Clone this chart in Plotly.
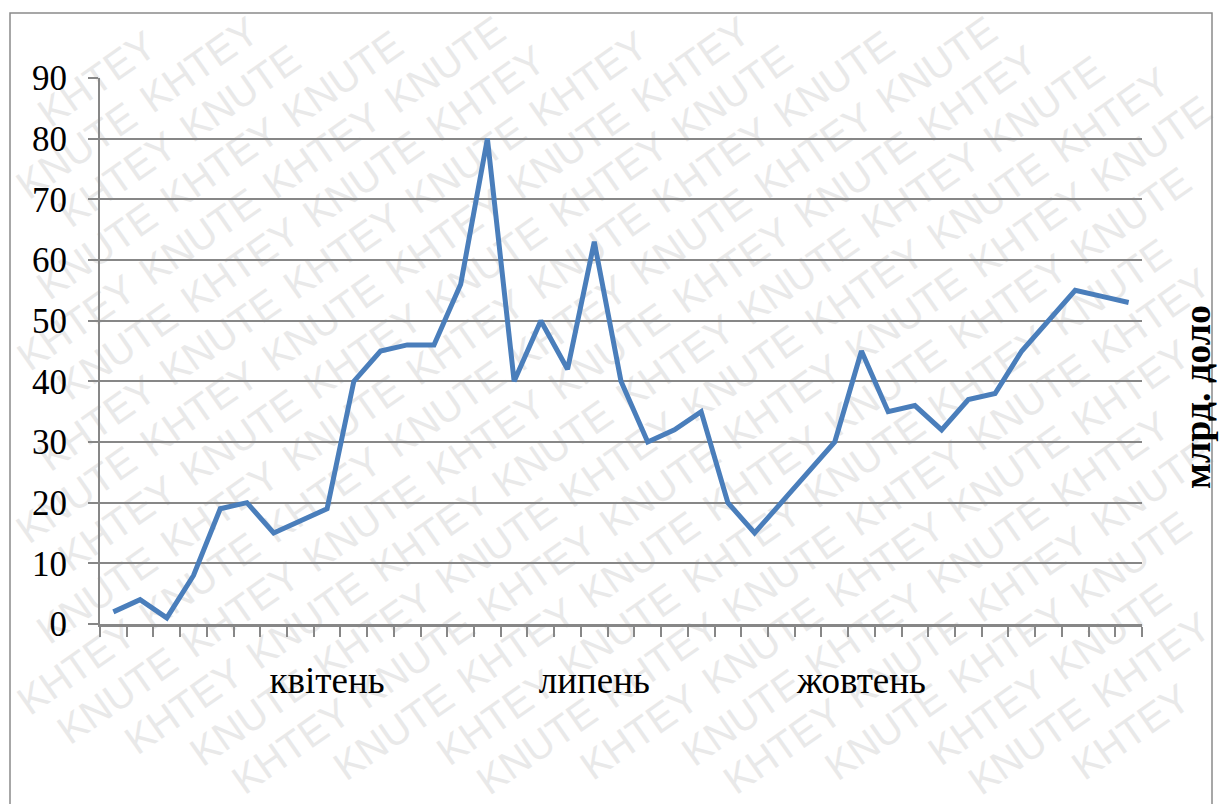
import math
import plotly.graph_objects as go

# ---- data ----
periods = list(range(39))
values = [2, 4, 1, 8, 19, 20, 15, 17, 19, 40, 45, 46, 46, 56, 80, 40, 50, 42, 63, 40,
          30, 32, 35, 20, 15, 20, 25, 30, 45, 35, 36, 32, 37, 38, 45, 50, 55, 54, 53]
month_positions = [8, 18, 28]
month_labels = ["квітень", "липень", "жовтень"]
y_ticks = [0, 10, 20, 30, 40, 50, 60, 70, 80, 90]
unit_label = "млрд. доло"
watermark_words = ["KHTEY", "KNUTE"]

W, H = 1223, 804
L, R, T, B = 100, 1142, 78, 624


def px_x(px):
    return (px - L) / (R - L)


def px_y(py):
    return (B - py) / (B - T)


fig = go.Figure()
fig.add_trace(go.Scatter(
    x=periods, y=values, mode="lines",
    line=dict(color="#4A7EBB", width=5),
    hoverinfo="skip", showlegend=False,
))

serif = "Liberation Serif, Times New Roman, serif"
grey = "#878787"

shapes = []
# faint diagonal watermark, word by word, only words that fit inside the page
ang = math.radians(35)
ux, uy = math.cos(ang), -math.sin(ang)      # along the text
vx, vy = math.sin(ang), math.cos(ang)       # across rows
row_gap = 47
word_step = 150
half_w = 0.5 * (136 * math.cos(ang) + 32 * math.sin(ang)) + 9
half_h = 0.5 * (136 * math.sin(ang) + 32 * math.cos(ang)) + 9
xmin, xmax = half_w, W - half_w
ymin, ymax = half_h, H - half_h
cx0, cy0 = W / 2, H / 2
for r in range(-18, 19):
    bx = cx0 + r * row_gap * vx
    by = cy0 + r * row_gap * vy
    t_lo = max((xmin - bx) / ux, (ymax - by) / uy)
    t_hi = min((xmax - bx) / ux, (ymin - by) / uy)
    if t_hi < t_lo:
        continue
    n = int((t_hi - t_lo) // word_step) + 1
    start = (t_lo + t_hi) / 2 - (n - 1) * word_step / 2
    for c in range(n):
        t = start + c * word_step
        px, py = bx + t * ux, by + t * uy
        word = watermark_words[(c + r) % 2]
        shapes.append(dict(
            type="line", xref="paper", yref="paper", layer="below",
            x0=px_x(px - 5 * ux), y0=px_y(py - 5 * uy),
            x1=px_x(px + 5 * ux), y1=px_y(py + 5 * uy),
            line=dict(width=0, color="rgba(0,0,0,0)"),
            label=dict(text=word, textangle=-35, textposition="middle",
                       xanchor="center", yanchor="middle",
                       font=dict(family="Liberation Sans, Arial, sans-serif", size=40,
                                 color="#e9e9e9")),
        ))

# chart area border
shapes.append(dict(
    type="rect", xref="paper", yref="paper", layer="above",
    x0=px_x(10), x1=px_x(1212), y0=px_y(830), y1=px_y(13),
    line=dict(color="#8a8a8a", width=1.5), fillcolor="rgba(0,0,0,0)",
))

fig.update_layout(
    width=W, height=H,
    margin=dict(l=L, r=W - R, t=T, b=H - B, pad=0),
    paper_bgcolor="white", plot_bgcolor="rgba(0,0,0,0)",
    showlegend=False,
    shapes=shapes,
    xaxis=dict(
        range=[-0.5, len(periods) - 0.5],
        tickvals=month_positions, ticktext=month_labels,
        ticks="", showgrid=False, zeroline=False,
        showline=True, linecolor=grey, linewidth=2.5,
        tickfont=dict(family=serif, size=37, color="black"),
        ticklabelstandoff=22,
        minor=dict(tickvals=[p - 0.5 for p in periods] + [len(periods) - 0.5],
                   ticks="outside", ticklen=10, tickwidth=2, tickcolor=grey,
                   showgrid=False),
        fixedrange=True,
    ),
    yaxis=dict(
        range=[0, 90], tickvals=y_ticks,
        ticks="outside", ticklen=10, tickwidth=2, tickcolor=grey,
        showgrid=True, gridcolor=grey, gridwidth=2,
        zeroline=False, showline=True, linecolor=grey, linewidth=2,
        tickfont=dict(family=serif, size=35, color="black"),
        ticklabelstandoff=14,
        fixedrange=True,
    ),
    annotations=[dict(
        text=unit_label, xref="paper", yref="paper",
        x=px_x(1197), y=px_y(397), textangle=-90, showarrow=False,
        font=dict(family=serif, size=38, color="black", weight="bold"),
        xanchor="center", yanchor="middle",
    )],
)

fig.write_html(
    "out.html",
    config={"displayModeBar": False},
    post_script="document.body.style.margin='0';document.body.style.overflow='hidden';",
)
